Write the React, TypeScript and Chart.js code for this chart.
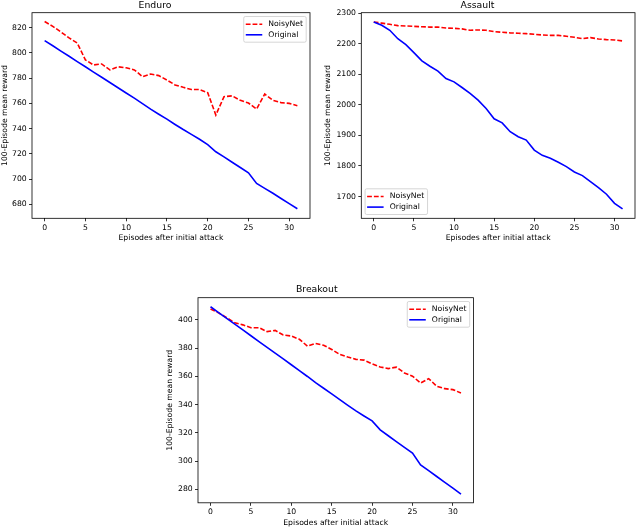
import React, { useEffect, useRef } from "react";
import { Chart, registerables } from "chart.js";

Chart.register(...registerables);

const FONT = '"DejaVu Sans", "Liberation Sans", sans-serif';

const episodes = [0, 1, 2, 3, 4, 5, 6, 7, 8, 9, 10, 11, 12, 13, 14, 15, 16, 17, 18, 19, 20, 21, 22, 23, 24, 25, 26, 27, 28, 29, 30, 31];
const xTicks = [0, 5, 10, 15, 20, 25, 30];
const seriesNames = ["NoisyNet", "Original"];

const enduroTicks = [680, 700, 720, 740, 760, 780, 800, 820];
const enduroNoisy = [824.8, 821, 816.5, 811.8, 807.8, 794.4, 790.4, 791.2, 786.5, 789, 788.2, 786.5, 781.2, 783.2, 782, 778.5, 774.6, 772.7, 771, 771, 768.5, 750.8, 765.3, 766, 762.4, 760.3, 755.5, 767.4, 762.4, 760.6, 760, 758.2];
const enduroOrig = [809.7, 805.6, 801.4, 797.3, 793.1, 789, 784.8, 780.7, 776.5, 772.4, 768.2, 764.1, 759.8, 755.4, 751.4, 747.5, 743.3, 739.3, 735.5, 731.6, 727.3, 721.7, 717.6, 713.4, 709.2, 705, 696.6, 692.7, 688.8, 684.7, 680.6, 676.6];

const assaultTicks = [1700, 1800, 1900, 2000, 2100, 2200, 2300];
const assaultNoisy = [2270.5, 2267, 2263, 2258.7, 2257.6, 2256.5, 2255, 2254, 2254, 2251, 2250, 2248, 2243.5, 2244.6, 2243.5, 2239, 2237, 2235, 2233.7, 2232.6, 2230.4, 2228, 2227, 2227, 2224, 2220.7, 2216, 2219.6, 2215, 2213, 2212, 2208.7];
const assaultOrig = [2270.5, 2260, 2243.5, 2216, 2196.7, 2170.6, 2143.5, 2126, 2110, 2086, 2075, 2056.5, 2037, 2015, 1988, 1954.3, 1941, 1912, 1895.7, 1884.8, 1852, 1834.8, 1825, 1812, 1798, 1780.4, 1768.5, 1749, 1729.3, 1707.6, 1678, 1659.8];

const breakoutTicks = [280, 300, 320, 340, 360, 380, 400];
const breakoutNoisy = [407.6, 404.9, 401.5, 397.8, 396.4, 394.4, 394.4, 391.6, 392.5, 389.2, 388.5, 386.2, 381.3, 383.3, 382, 379, 375.5, 373.6, 372, 371.5, 368.8, 366.6, 365.5, 366.5, 362.4, 360.1, 355.3, 358.4, 353, 351.3, 350.6, 348.2];
const breakoutOrig = [409.2, 405.1, 401, 396.9, 392.8, 388.7, 384.6, 380.5, 376.4, 372.3, 368.2, 364.1, 359.9, 355.5, 351.6, 347.6, 343.5, 339.5, 335.6, 332, 328.5, 322.2, 318, 313.9, 309.8, 305.7, 297.4, 293.3, 289.2, 285.1, 281, 276.8];

type Panel = {
  title: string;
  left: number;
  top: number;
  width: number;
  height: number;
  noisy: number[];
  orig: number[];
  yTicks: number[];
  yMin: number;
  yMax: number;
  yW: number;
  xH: number;
  padRight: number;
  titleTop: number;
  titleBottom: number;
  xTitlePad: number;
  yTitlePad: number;
  corner: "ur" | "ll";
};

const panels: Panel[] = [
  { title: "Enduro", left: 0, top: 0, width: 320, height: 245, noisy: enduroNoisy, orig: enduroOrig, yTicks: enduroTicks, yMin: 669, yMax: 831.8, yW: 32, xH: 26.7, padRight: 10, titleTop: 0, titleBottom: 1.54, xTitlePad: 2.7, yTitlePad: 0.4, corner: "ur" },
  { title: "Assault", left: 320, top: 0, width: 320, height: 245, noisy: assaultNoisy, orig: assaultOrig, yTicks: assaultTicks, yMin: 1629, yMax: 2301, yW: 41.3, xH: 26.7, padRight: 5, titleTop: 0, titleBottom: 1.54, xTitlePad: 2.7, yTitlePad: 3.8, corner: "ll" },
  { title: "Breakout", left: 160, top: 260, width: 320, height: 268, noisy: breakoutNoisy, orig: breakoutOrig, yTicks: breakoutTicks, yMin: 270.6, yMax: 415.6, yW: 38, xH: 25.2, padRight: 6.5, titleTop: 23.7, titleBottom: 2.84, xTitlePad: 0, yTitlePad: 5.1, corner: "ur" },
];

const framePlugin = {
  id: "frame",
  afterDatasetsDraw(chart: any) {
    const { ctx, chartArea: a } = chart;
    ctx.save();
    ctx.strokeStyle = "#000";
    ctx.lineWidth = 0.8;
    ctx.setLineDash([]);
    ctx.strokeRect(a.left, a.top, a.right - a.left, a.bottom - a.top);
    ctx.restore();
  },
};

const legendPlugin = {
  id: "mplLegend",
  afterDraw(chart: any, _args: any, opts: any) {
    const { ctx, chartArea: a } = chart;
    const fs = 7.7;
    ctx.save();
    ctx.font = `${fs}px ${FONT}`;
    const ds = chart.data.datasets;
    const tw = Math.max(...ds.map((d: any) => ctx.measureText(d.label).width));
    const w = 24.6 + tw + 3.2;
    const h = 25.7;
    const m = 3.8;
    let x: number, y: number;
    if (opts.corner === "ll") {
      x = a.left + m;
      y = a.bottom - m - h;
    } else {
      x = a.right - m - w;
      y = a.top + m;
    }
    const r = 1.6;
    ctx.beginPath();
    ctx.moveTo(x + r, y);
    ctx.lineTo(x + w - r, y);
    ctx.quadraticCurveTo(x + w, y, x + w, y + r);
    ctx.lineTo(x + w, y + h - r);
    ctx.quadraticCurveTo(x + w, y + h, x + w - r, y + h);
    ctx.lineTo(x + r, y + h);
    ctx.quadraticCurveTo(x, y + h, x, y + h - r);
    ctx.lineTo(x, y + r);
    ctx.quadraticCurveTo(x, y, x + r, y);
    ctx.closePath();
    ctx.fillStyle = "rgba(255,255,255,0.8)";
    ctx.fill();
    ctx.strokeStyle = "#cccccc";
    ctx.lineWidth = 0.8;
    ctx.stroke();
    ds.forEach((d: any, i: number) => {
      const cy = y + 7.7 + i * 10.6;
      ctx.beginPath();
      ctx.setLineDash(d.borderDash || []);
      ctx.strokeStyle = d.borderColor;
      ctx.lineWidth = d.borderWidth;
      ctx.moveTo(x + 2, cy);
      ctx.lineTo(x + 18.5, cy);
      ctx.stroke();
      ctx.setLineDash([]);
      ctx.fillStyle = "#000";
      ctx.textBaseline = "middle";
      ctx.textAlign = "left";
      ctx.fillText(d.label, x + 24.6, cy);
    });
    ctx.restore();
  },
};

function PanelChart({ p }: { p: Panel }) {
  const ref = useRef<HTMLCanvasElement | null>(null);
  useEffect(() => {
    if (!ref.current) return;
    const gridOpts = {
      display: true,
      drawOnChartArea: false,
      drawTicks: true,
      tickLength: 3,
      color: "#000",
      tickColor: "#000",
      tickWidth: 0.8,
      lineWidth: 0.8,
    };
    const chart = new Chart(ref.current, {
      type: "line",
      data: {
        datasets: [
          {
            label: seriesNames[0],
            data: episodes.map((e, i) => ({ x: e, y: p.noisy[i] })),
            borderColor: "#ff0000",
            borderDash: [4.8, 2],
            borderWidth: 1.6,
            pointRadius: 0,
            tension: 0,
            fill: false,
            order: 2,
          },
          {
            label: seriesNames[1],
            data: episodes.map((e, i) => ({ x: e, y: p.orig[i] })),
            borderColor: "#0000ff",
            borderWidth: 1.6,
            pointRadius: 0,
            tension: 0,
            fill: false,
            order: 1,
          },
        ],
      },
      options: {
        animation: false,
        responsive: true,
        maintainAspectRatio: false,
        layout: { padding: { left: 0, right: p.padRight, top: 0, bottom: 0 } },
        plugins: {
          legend: { display: false },
          tooltip: { enabled: false },
          title: {
            display: true,
            text: p.title,
            color: "#000",
            font: { family: FONT, size: 9.3, weight: "normal", lineHeight: 1.2 },
            padding: { top: p.titleTop, bottom: p.titleBottom },
          },
          mplLegend: { corner: p.corner },
        } as any,
        scales: {
          x: {
            type: "linear",
            min: -1.55,
            max: 32.55,
            afterBuildTicks: (s: any) => {
              s.ticks = xTicks.map((v) => ({ value: v }));
            },
            afterFit: (s: any) => {
              s.height = p.xH;
            },
            grid: gridOpts as any,
            border: { display: false },
            ticks: {
              color: "#000",
              font: { family: FONT, size: 7.7 },
              padding: 2,
              maxRotation: 0,
              autoSkip: false,
              callback: (v: any) => String(v),
            },
            title: {
              display: true,
              text: "Episodes after initial attack",
              color: "#000",
              font: { family: FONT, size: 7.7, lineHeight: 1.2 },
              padding: { top: 0, bottom: p.xTitlePad },
            },
          },
          y: {
            type: "linear",
            min: p.yMin,
            max: p.yMax,
            afterBuildTicks: (s: any) => {
              s.ticks = p.yTicks.map((v) => ({ value: v }));
            },
            afterFit: (s: any) => {
              s.width = p.yW;
            },
            grid: gridOpts as any,
            border: { display: false },
            ticks: {
              color: "#000",
              font: { family: FONT, size: 7.7 },
              padding: 2.3,
              autoSkip: false,
              callback: (v: any) => String(v),
            },
            title: {
              display: true,
              text: "100-Episode mean reward",
              color: "#000",
              font: { family: FONT, size: 7.7, lineHeight: 1.2 },
              padding: { top: p.yTitlePad, bottom: 0 },
            },
          },
        },
      },
      plugins: [framePlugin, legendPlugin],
    } as any);
    return () => chart.destroy();
  }, [p]);
  return (
    <div style={{ position: "absolute", left: p.left, top: p.top, width: p.width, height: p.height }}>
      <canvas ref={ref} />
    </div>
  );
}

export default function App() {
  return (
    <div style={{ position: "absolute", left: 0, top: 0, width: 640, height: 528, background: "#fff", overflow: "hidden" }}>
      {panels.map((p) => (
        <PanelChart key={p.title} p={p} />
      ))}
    </div>
  );
}
